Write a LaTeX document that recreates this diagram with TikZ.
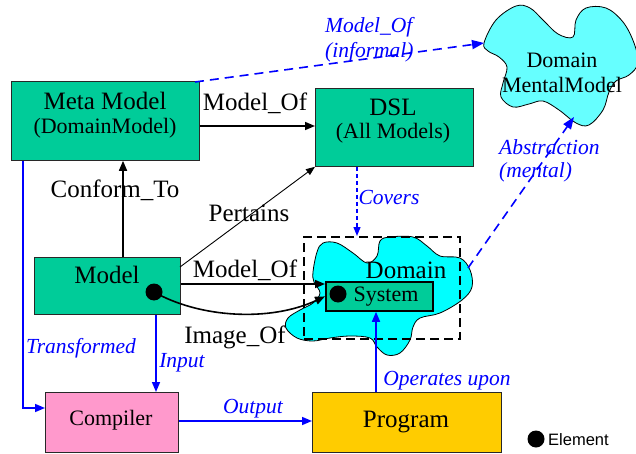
\documentclass[tikz,border=0pt]{standalone}
\usepackage{fontspec}
\setmainfont{Liberation Serif}
\newfontfamily\legendfont{Liberation Sans}
\usetikzlibrary{arrows.meta,calc}
\definecolor{boxgreen}{RGB}{0,204,153}
\definecolor{pinkc}{RGB}{255,153,204}
\definecolor{goldc}{RGB}{255,204,0}
\definecolor{cyanA}{RGB}{0,255,255}
\definecolor{cyanB}{RGB}{102,255,255}
\definecolor{myblue}{RGB}{0,0,255}
\definecolor{edgec}{RGB}{40,40,40}
\begin{document}
\begin{tikzpicture}[x=1pt,y=-1pt,
  box/.style={draw=edgec, line width=0.8pt, inner sep=0pt, anchor=north west},
  big/.style={inner sep=0pt, font=\fontsize{25}{28}\selectfont},
  mid/.style={inner sep=0pt, font=\fontsize{22}{25}\selectfont},
  lbl/.style={inner sep=0pt, text=myblue, font=\fontsize{21.5}{25}\selectfont\itshape},
  blk/.style={draw=black, line width=1.6pt, -{Triangle[length=10pt,width=8pt]}},
  thinblk/.style={draw=black, line width=0.9pt, -{Triangle[length=9pt,width=7pt]}},
  bl/.style={draw=myblue, line width=1.6pt, -{Triangle[length=10pt,width=8pt]}},
  bldash/.style={draw=myblue, line width=1.6pt, dash pattern=on 9pt off 6pt, -{Triangle[length=12pt,width=9pt]}},
  bldot/.style={draw=myblue, line width=1.3pt, dash pattern=on 4pt off 3pt, -{Triangle[length=9pt,width=7pt]}},
  elem/.style={circle, fill=black, inner sep=0pt, minimum size=17pt}
]
\useasboundingbox (0,0) rectangle (636,454);

% Domain mental model cloud
\path[draw=black, line width=0.8pt, fill=cyanB] plot[smooth cycle, tension=0.6] coordinates {
 (484,43) (496,20) (516,6) (530,8) (543,20) (558,34) (573,37) (576,20) (586,8)
 (606,8) (623,22) (634,43) (638,63) (629,75) (616,81) (609,92) (603,110)
 (589,125) (576,123) (559,110) (543,101) (529,104) (513,107) (501,97) (503,83)
 (507,67) (499,57) (488,51)};
\coordinate (mentaltip) at (484,43);
\coordinate (mentalbot) at (574,117);
\node[mid] (mtxt1) at (562,60) {Domain};
\node[mid] (mtxt2) at (562,85) {MentalModel};

% Domain cloud
\path[draw=black, line width=0.8pt, fill=cyanA] plot[smooth cycle, tension=0.6] coordinates {
 (313,272) (317,252) (323,243) (337,243) (353,253) (367,263) (377,256) (380,241)
 (390,237) (413,237) (427,246) (440,256) (460,258) (470,270) (472,287) (462,300)
 (440,313) (420,318) (413,327) (410,340) (400,353) (387,355) (377,347) (370,338)
 (350,336) (330,338) (313,341) (297,338) (286,328) (288,318) (300,310) (313,303)
 (320,293) (314,282)};
\coordinate (domright) at (468,268);
\node[big] (domtxt) at (406,270) {Domain};

% dashed frame
\node[draw=black, line width=2.4pt, dash pattern=on 9pt off 5pt, anchor=north west,
      minimum width=156pt, minimum height=102pt, inner sep=0pt] (dbox) at (303,236) {};

% boxes
\node[box, fill=boxgreen, minimum width=188pt, minimum height=79pt] (meta) at (11,81) {};
\node[big] (metat1) at (105,101) {Meta Model};
\node[mid] (metat2) at (105,128) {(DomainModel)};

\node[box, fill=boxgreen, minimum width=158pt, minimum height=78pt] (dsl) at (315,88) {};
\node[big] (dslt1) at (393,107) {DSL};
\node[mid] (dslt2) at (393,133) {(All Models)};

\node[box, fill=boxgreen, minimum width=146pt, minimum height=57pt] (model) at (34,257) {};
\node[big] (modelt) at (107,275) {Model};
\node[elem] (mdot) at (154,292) {};

\node[box, draw=black, line width=1.8pt, fill=boxgreen, minimum width=107pt, minimum height=29pt] (sys) at (325,281) {};
\node[elem] (sdot) at (338,294) {};
\node[mid] (syst) at (386,297) {System};

\node[box, fill=pinkc, minimum width=133pt, minimum height=60pt] (comp) at (45,392) {};
\node[mid] (compt) at (111,420) {Compiler};

\node[box, fill=goldc, minimum width=189pt, minimum height=60pt] (prog) at (312,392) {};
\node[big] (progt) at (406,422) {Program};

% legend
\node[elem] (ldot) at (536,439) {};
\node[anchor=west, inner sep=0pt, font=\legendfont\fontsize{16.5}{19}\selectfont] (ltxt) at (548,440) {Element};

% helper coordinates
\coordinate (ymo) at (0,126);
\coordinate (xcf) at (123,0);
\coordinate (pstart) at (180,267);
\coordinate (ymo2) at (0,284);
\coordinate (xtr) at (23,0);
\coordinate (ytr) at (0,408);
\coordinate (xin) at (156,0);
\coordinate (yout) at (0,421);
\coordinate (xop) at (376,0);
\coordinate (xcov) at (357,0);
\coordinate (infstart) at (195,82);

% black connectors
\draw[blk] (ymo -| meta.east) -- (ymo -| dsl.west);
\node[big] (lmo1) at (255,103) {Model\_Of};
\draw[blk] (xcf |- model.north) -- (xcf |- meta.south);
\node[big] (lcf) at (115,190) {Conform\_To};
\draw[thinblk] (pstart) -- (dsl.south west);
\node[big] (lpert) at (249,213) {Pertains};
\draw[blk] (ymo2 -| model.east) -- (ymo2 -| sys.west);
\node[big] (lmo2) at (245,270) {Model\_Of};
\draw[blk] (mdot.center) .. controls (200,318) and (270,322) .. (sys.west);
\node[big] (limg) at (235,337) {Image\_Of};

% blue connectors
\draw[bl] (xtr |- meta.south) |- (ytr -| comp.west);
\node[lbl] (ltr) at (81,348) {Transformed};
\draw[bl] (xin |- model.south) -- (xin |- comp.north);
\node[lbl] (lin) at (182,363) {Input};
\draw[bl] (yout -| comp.east) -- (yout -| prog.west);
\node[lbl] (lout) at (253,409) {Output};
\draw[bl] (xop |- prog.north) -- (xop |- sys.south);
\node[lbl] (lop) at (447,381) {Operates upon};
\draw[bldot] (xcov |- dsl.south) -- (xcov |- dbox.north);
\node[lbl] (lcov) at (389,197) {Covers};
\draw[bldash] (infstart) -- (mentaltip);
\node[lbl, anchor=west] (linf1) at (325,27) {Model\_Of};
\node[lbl, anchor=west] (linf2) at (325,52) {(informal)};
\draw[bldash] (domright) -- (mentalbot);
\node[lbl, anchor=west] (labs1) at (499,147) {Abstraction};
\node[lbl, anchor=west] (labs2) at (499,172) {(mental)};
\end{tikzpicture}
\end{document}
